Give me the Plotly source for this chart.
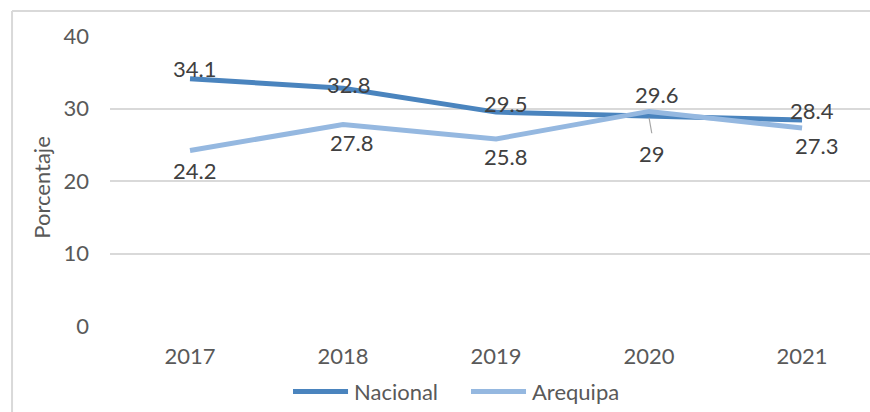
import plotly.graph_objects as go

years = ["2017", "2018", "2019", "2020", "2021"]
series_names = ["Nacional", "Arequipa"]
nacional = [34.1, 32.8, 29.5, 29.0, 28.4]
arequipa = [24.2, 27.8, 25.8, 29.6, 27.3]
nacional_labels = ["34.1", "32.8", "29.5", "29", "28.4"]
arequipa_labels = ["24.2", "27.8", "25.8", "29.6", "27.3"]
y_ticks = [0, 10, 20, 30, 40]

# label placement offsets (pixels): (xshift, yshift)
nac_off = [(4, 10), (5, 4), (9, 9), (3, -38), (10, 10)]
are_off = [(4, -20), (8, -18), (9, -18), (7, 17), (14, -17)]

C_NAC = "#4a84be"
C_ARE = "#95b8e0"
FONT = "Lato"
FS = 22
TXT = "#595959"
LBL = "#404040"

fig = go.Figure()
fig.add_trace(go.Scatter(x=list(range(len(years))), y=nacional, mode="lines",
                         name=series_names[0], line=dict(color=C_NAC, width=5)))
fig.add_trace(go.Scatter(x=list(range(len(years))), y=arequipa, mode="lines",
                         name=series_names[1], line=dict(color=C_ARE, width=5)))

for i in range(len(years)):
    dx, dy = nac_off[i]
    fig.add_annotation(x=i, y=nacional[i], text=nacional_labels[i], showarrow=False,
                       xshift=dx, yshift=dy, font=dict(family=FONT, size=FS, color=LBL))
    dx, dy = are_off[i]
    fig.add_annotation(x=i, y=arequipa[i], text=arequipa_labels[i], showarrow=False,
                       xshift=dx, yshift=dy, font=dict(family=FONT, size=FS, color=LBL))

# leader line for the 2020 Nacional label
fig.add_annotation(x=3, y=nacional[3], ax=3, ay=17, axref="pixel", ayref="pixel",
                   text="", showarrow=True, arrowhead=0, arrowwidth=1.2,
                   arrowcolor="#a6a6a6", yshift=-2, standoff=0, startstandoff=0)

fig.add_annotation(xref="paper", yref="paper", x=-0.0895, y=0.477, text="Porcentaje",
                   textangle=-90, showarrow=False, xanchor="center", yanchor="middle",
                   font=dict(family=FONT, size=FS, color=TXT))

# manual legend
leg_y = -0.2255
leg_items = [(0.2408, 0.3132, 0.3184, C_NAC), (0.4750, 0.5474, 0.5526, C_ARE)]
for name, (x0, x1, xt, col) in zip(series_names, leg_items):
    fig.add_shape(type="line", xref="paper", yref="paper", x0=x0, x1=x1,
                  y0=leg_y, y1=leg_y, line=dict(color=col, width=5))
    fig.add_annotation(xref="paper", yref="paper", x=xt, y=leg_y, text=name,
                       showarrow=False, xanchor="left", yanchor="middle",
                       font=dict(family=FONT, size=FS, color=TXT))

# chart border (cropped on right/bottom)
fig.add_shape(type="line", xref="paper", yref="paper", x0=-0.1289, x1=-0.1289,
              y0=1.086, y1=-0.4, line=dict(color="#d9d9d9", width=2))
fig.add_shape(type="line", xref="paper", yref="paper", x0=-0.1289, x1=1.2,
              y0=1.086, y1=1.086, line=dict(color="#d9d9d9", width=2))

fig.update_layout(
    width=870, height=412,
    margin=dict(l=110, r=0, t=36, b=85.5),
    paper_bgcolor="white", plot_bgcolor="white",
    font=dict(family=FONT, size=FS, color=TXT),
    showlegend=False,
    xaxis=dict(range=[-0.523, 4.444], tickvals=list(range(len(years))), ticktext=years,
               showgrid=False, zeroline=False, showline=False, ticks="",
               ticklabelstandoff=15, tickfont=dict(family=FONT, size=FS, color=TXT)),
    yaxis=dict(range=[0, 40], tickvals=y_ticks, showgrid=True, gridcolor="#d9d9d9",
               gridwidth=1.5, zeroline=False, showline=False, ticks="",
               ticklabelstandoff=20, tickfont=dict(family=FONT, size=FS, color=TXT)),
)

fig.write_html("out.html", config={"displayModeBar": False},
               post_script="document.body.style.margin='0';document.body.style.overflow='hidden';")
